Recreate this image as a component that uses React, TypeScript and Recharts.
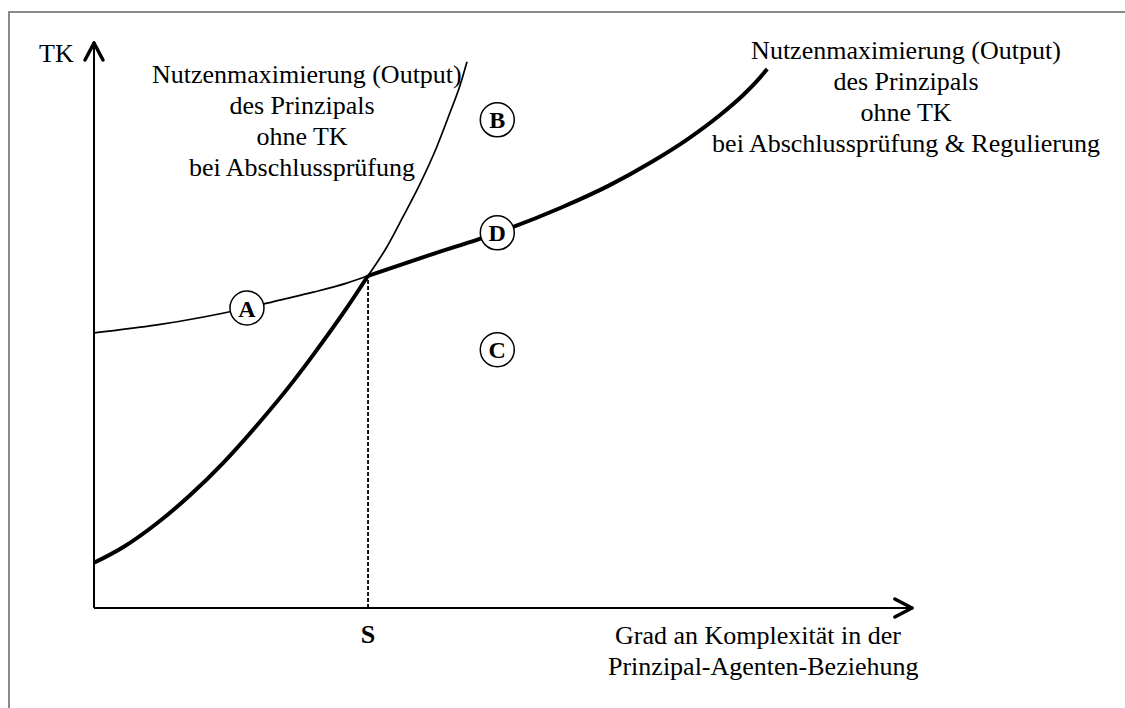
import { LineChart, Line, XAxis, YAxis, ReferenceLine, ReferenceDot } from "recharts";

// flache Kurve (Abschlussprüfung & Regulierung): dünn bis S, danach dick
const flatBeforeS = [
  { x: 0, y: 48.7 },
  { x: 7.7, y: 50.1 },
  { x: 18.7, y: 53.1 },
  { x: 22.7, y: 54.5 },
  { x: 26.8, y: 55.9 },
  { x: 30.9, y: 57.5 },
  { x: 33.5, y: 58.8 },
];
const flatAfterS = [
  { x: 33.5, y: 58.8 },
  { x: 41.1, y: 62.5 },
  { x: 49.3, y: 66.4 },
  { x: 57.0, y: 70.8 },
  { x: 63.0, y: 74.8 },
  { x: 68.0, y: 78.8 },
  { x: 72.5, y: 82.9 },
  { x: 76.5, y: 87.2 },
  { x: 79.3, y: 90.7 },
  { x: 81.0, y: 93.2 },
  { x: 82.3, y: 95.4 },
];

// steile Kurve (Abschlussprüfung): dick bis S, danach dünn
const steepBeforeS = [
  { x: 0, y: 8.0 },
  { x: 3.6, y: 10.8 },
  { x: 7.7, y: 15.0 },
  { x: 11.7, y: 19.9 },
  { x: 15.8, y: 25.7 },
  { x: 19.9, y: 32.3 },
  { x: 24.4, y: 40.2 },
  { x: 26.8, y: 44.8 },
  { x: 30.9, y: 53.1 },
  { x: 33.5, y: 58.8 },
];
const steepAfterS = [
  { x: 33.5, y: 58.8 },
  { x: 35.8, y: 63.9 },
  { x: 37.8, y: 69.3 },
  { x: 39.9, y: 75.2 },
  { x: 41.9, y: 81.6 },
  { x: 43.5, y: 87.6 },
  { x: 44.7, y: 92.3 },
  { x: 45.6, y: 96.7 },
];

const sPoint = { x: 33.5, y: 58.8 };
const xTicks = [33.5];
const xTickLabels = ["S"];

const markers = [
  { id: "A", x: 18.7, y: 53.1 },
  { id: "B", x: 49.3, y: 86.4 },
  { id: "C", x: 49.3, y: 45.7 },
  { id: "D", x: 49.3, y: 66.4 },
];

const leftNote = ["Nutzenmaximierung (Output)", "des Prinzipals", "ohne TK", "bei Abschlussprüfung"];
const rightNote = ["Nutzenmaximierung (Output)", "des Prinzipals", "ohne TK", "bei Abschlussprüfung & Regulierung"];
const xAxisTitle = ["Grad an Komplexität in der", "Prinzipal-Agenten-Beziehung"];
const yAxisTitle = "TK";

const FONT = '"Liberation Serif", "Times New Roman", serif';

// Achsen mit Pfeilspitzen (in Achseneinheiten)
const axisLines = [
  [{ x: 0, y: 0 }, { x: 0, y: 100 }],
];
const arrowHeads = [
  [{ x: -1.1, y: 97.0 }, { x: 0, y: 100 }],
  [{ x: 1.1, y: 97.0 }, { x: 0, y: 100 }],
  [{ x: 97.9, y: 1.6 }, { x: 100, y: 0 }],
  [{ x: 97.9, y: -1.6 }, { x: 100, y: 0 }],
];

function Note({ lines, left, top, width }: { lines: string[]; left: number; top: number; width: number }) {
  return (
    <div
      style={{
        position: "absolute",
        left,
        top,
        width,
        textAlign: "center",
        fontFamily: FONT,
        fontSize: 26,
        lineHeight: "31px",
        color: "#000",
        whiteSpace: "nowrap",
      }}
    >
      {lines.map(l => (
        <div key={l}>{l}</div>
      ))}
    </div>
  );
}

export default function App() {
  return (
    <div style={{ position: "relative", width: 1125, height: 708, background: "#fff", overflow: "hidden" }}>
      <style>{`body{margin:0}html,body{overflow:hidden}`}</style>
      <div
        style={{
          position: "absolute",
          left: 8,
          top: 11,
          width: 1300,
          height: 900,
          borderLeft: "2px solid #8a8a8a",
          borderTop: "2px solid #8a8a8a",
        }}
      />
      <LineChart
        width={1125}
        height={708}
        margin={{ top: 43, right: 213, bottom: 60, left: 94 }}
        style={{ position: "absolute", left: 0, top: 0 }}
      >
        <XAxis
          dataKey="x"
          type="number"
          domain={[0, 100]}
          allowDataOverflow
          ticks={xTicks}
          height={40}
          tickLine={false}
          axisLine={{ stroke: "#000", strokeWidth: 2 }}
          tick={(props: any) => (
            <text
              x={props.x}
              y={props.y}
              dy={27}
              textAnchor="middle"
              fontFamily={FONT}
              fontSize={26}
              fontWeight="bold"
              fill="#000"
            >
              {xTickLabels[xTicks.indexOf(props.payload.value)]}
            </text>
          )}
        />
        <YAxis type="number" domain={[0, 100]} allowDataOverflow hide />
        {axisLines.map((seg, i) => (
          <ReferenceLine key={"ax" + i} segment={seg} stroke="#000" strokeWidth={2} ifOverflow="visible" />
        ))}
        {arrowHeads.map((seg, i) => (
          <ReferenceLine key={"ar" + i} segment={seg} stroke="#000" strokeWidth={3.5} strokeLinecap="round" ifOverflow="visible" />
        ))}
        <ReferenceLine
          segment={[{ x: sPoint.x, y: 0 }, sPoint]}
          stroke="#000"
          strokeWidth={1.8}
          strokeDasharray="4 2"
          ifOverflow="visible"
        />
        <Line data={flatBeforeS} dataKey="y" type="monotone" stroke="#000" strokeWidth={1.7} dot={false} activeDot={false} isAnimationActive={false} />
        <Line data={flatAfterS} dataKey="y" type="monotone" stroke="#000" strokeWidth={4} dot={false} activeDot={false} isAnimationActive={false} />
        <Line data={steepBeforeS} dataKey="y" type="monotone" stroke="#000" strokeWidth={4} dot={false} activeDot={false} isAnimationActive={false} />
        <Line data={steepAfterS} dataKey="y" type="monotone" stroke="#000" strokeWidth={1.7} dot={false} activeDot={false} isAnimationActive={false} />
        {markers.map(m => (
          <ReferenceDot
            key={m.id}
            x={m.x}
            y={m.y}
            r={17}
            fill="#fff"
            stroke="#000"
            strokeWidth={1.5}
            label={{ value: m.id, position: "center", fill: "#000", fontSize: 24, fontWeight: "bold", fontFamily: FONT }}
          />
        ))}
      </LineChart>
      <div style={{ position: "absolute", left: 39, top: 38, fontFamily: FONT, fontSize: 26, lineHeight: "31px" }}>
        {yAxisTitle}
      </div>
      <Note lines={leftNote} left={152} top={59} width={300} />
      <Note lines={rightNote} left={706} top={35} width={400} />
      <Note lines={xAxisTitle} left={608} top={620} width={300} />
    </div>
  );
}
